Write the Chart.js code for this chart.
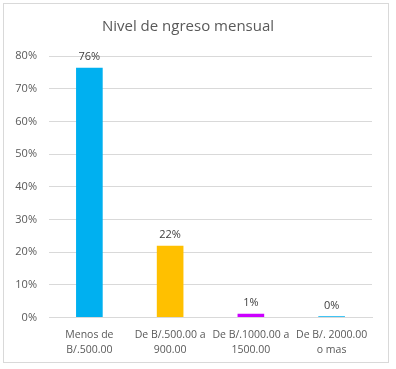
<!DOCTYPE html>
<html>
<head>
<meta charset="utf-8">
<script src="https://cdn.jsdelivr.net/npm/chart.js@4"></script>
<style>
  body { margin: 0; background: #fff; }
  #box { position: absolute; left: 3px; top: 3px; width: 384px; height: 358px; border: 1px solid #d9d9d9; }
</style>
</head>
<body>
<div id="box"><canvas id="myChart" width="384" height="358"></canvas></div>
<script>
const categories = [
  ['Menos de', 'B/.500.00'],
  ['De B/.500.00 a', '900.00'],
  ['De B/.1000.00 a', '1500.00'],
  ['De B/. 2000.00', 'o mas']
];
const values = [76.4, 22.0, 1.2, 0.4];
const barColors = ['#00B0F0', '#FFC000', '#CC00FF', '#00B0F0'];
const yTicks = [0, 10, 20, 30, 40, 50, 60, 70, 80];

// labels above each bar
const valueLabels = {
  id: 'valueLabels',
  afterDatasetsDraw(chart) {
    const ctx = chart.ctx;
    const meta = chart.getDatasetMeta(0);
    ctx.save();
    ctx.font = '11px "Open Sans"';
    ctx.fillStyle = '#404040';
    ctx.textAlign = 'center';
    ctx.textBaseline = 'bottom';
    meta.data.forEach((bar, i) => {
      ctx.fillText(Math.round(values[i]) + '%', bar.x, bar.y - 5);
    });
    ctx.restore();
  }
};

let myChart = document.getElementById('myChart').getContext('2d');
let chart1 = new Chart(myChart, {
  type: 'bar',
  data: {
    labels: categories,
    datasets: [{
      data: values,
      backgroundColor: barColors,
      barPercentage: 0.33,
      categoryPercentage: 1
    }]
  },
  options: {
    responsive: false,
    animation: false,
    layout: { padding: { left: 0, right: 16, top: 0, bottom: 3 } },
    plugins: {
      legend: { display: false },
      tooltip: { enabled: false },
      title: {
        display: true,
        text: 'Nivel de ngreso mensual',
        color: '#595959',
        font: { family: 'Open Sans', size: 15, weight: 'normal' },
        padding: { top: 14, bottom: 20 }
      }
    },
    scales: {
      x: {
        grid: { display: false },
        border: { color: '#d9d9d9', width: 1 },
        ticks: {
          color: '#595959',
          font: { family: 'Open Sans', size: 10.5, lineHeight: 1.4 },
          maxRotation: 0,
          autoSkip: false,
          padding: 2
        }
      },
      y: {
        min: 0,
        max: 80,
        afterBuildTicks: axis => { axis.ticks = yTicks.map(v => ({ value: v })); },
        afterFit: axis => { axis.width = 45; },
        grid: { color: '#d9d9d9', drawTicks: false },
        border: { display: false },
        ticks: {
          color: '#595959',
          font: { family: 'Open Sans', size: 11 },
          padding: 12,
          callback: v => v + '%'
        }
      }
    }
  },
  plugins: [valueLabels]
});
</script>
</body>
</html>
